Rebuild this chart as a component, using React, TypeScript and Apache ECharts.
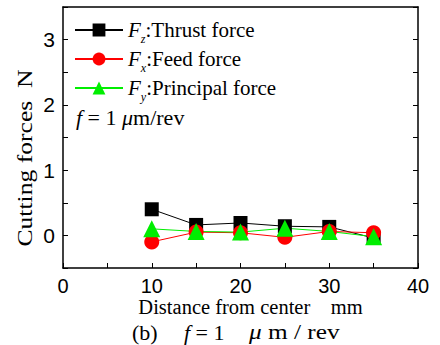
import React, { useEffect, useRef } from "react";
import * as echarts from "echarts";

const distances = [10, 15, 20, 25, 30, 35];
const thrustFz = [0.4, 0.16, 0.19, 0.14, 0.13, -0.04];
const feedFx = [-0.1, 0.05, 0.04, -0.03, 0.06, 0.04];
const principalFy = [0.1, 0.06, 0.05, 0.11, 0.06, -0.02];
const xTickLabels = ["0", "10", "20", "30", "40"];
const yTickLabels = ["0", "1", "2", "3"];

const serif = "'Liberation Serif', 'Times New Roman', serif";
const sans = "'Liberation Sans', Arial, sans-serif";

export default function App() {
  const ref = useRef<HTMLDivElement>(null);
  useEffect(() => {
    document.body.style.margin = "0";
    const chart = echarts.init(ref.current!, null, { renderer: "svg" });
    const pair = (ys: number[]) => distances.map((x, i) => [x, ys[i]]);
    const rich = {
      i: { fontFamily: serif, fontStyle: "italic", fontSize: 21, color: "#000" },
      s: { fontFamily: serif, fontStyle: "italic", fontSize: 12, color: "#000", padding: [18, 0, 0, 0] },
      n: { fontFamily: serif, fontSize: 21, color: "#000" },
    };
    const subs: Record<string, [string, string]> = {
      Fz: ["z", ":Thrust force"],
      Fx: ["x", ":Feed force"],
      Fy: ["y", ":Principal force"],
    };
    const capRich = {
      i: { fontFamily: serif, fontStyle: "italic", fontSize: 22, fill: "#000" },
      n: { fontFamily: serif, fontSize: 22, fill: "#000" },
    };
    const axisLine = { show: true, onZero: false, lineStyle: { color: "#000", width: 1.5 } };
    const cap = (text: string, x: number, sx = 1) => ({
      type: "text",
      x,
      y: 321,
      scaleX: sx,
      style: { text, rich: capRich, align: "left", verticalAlign: "top" },
    });
    chart.setOption({
      animation: false,
      grid: { left: 63, right: 22, top: 7, bottom: 77 },
      legend: {
        orient: "vertical",
        left: 74,
        top: 19,
        padding: 0,
        itemWidth: 48,
        itemHeight: 16,
        itemGap: 3,
        data: ["Fz", "Fx", "Fy"],
        formatter: (name: string) => `{i|F}{s|${subs[name][0]}}{n|${subs[name][1]}}`,
        textStyle: { rich, lineHeight: 22 },
      },
      xAxis: [
        {
          type: "value",
          min: 0,
          max: 40,
          interval: 5,
          position: "bottom",
          axisLine,
          axisTick: { inside: true, length: 5, lineStyle: { color: "#000" } },
          splitLine: { show: false },
          axisLabel: {
            fontFamily: sans,
            fontSize: 20,
            lineHeight: 19,
            color: "#000",
            margin: 8,
            formatter: (v: number) => (xTickLabels.includes(String(v)) ? String(v) : ""),
          },
          name: "Distance from center\u00a0\u00a0\u00a0 mm",
          nameLocation: "middle",
          nameMoveOverlap: false,
          nameGap: 29,
          nameTextStyle: {
            fontFamily: serif,
            fontSize: 20.5,
            lineHeight: 19,
            color: "#000",
            padding: [0, 0, 0, 20],
          },
        },
        {
          type: "value",
          min: 0,
          max: 40,
          position: "top",
          axisLine,
          axisTick: { show: false },
          axisLabel: { show: false },
          splitLine: { show: false },
        },
      ],
      yAxis: [
        {
          type: "value",
          min: -0.5,
          max: 3.5,
          interval: 0.5,
          position: "left",
          axisLine,
          axisTick: { inside: true, length: 5, lineStyle: { color: "#000" } },
          splitLine: { show: false },
          axisLabel: {
            fontFamily: sans,
            fontSize: 21,
            color: "#000",
            margin: 8,
            formatter: (v: number) => (yTickLabels.includes(String(v)) ? String(v) : ""),
          },
        },
        {
          type: "value",
          min: -0.5,
          max: 3.5,
          interval: 0.5,
          position: "right",
          axisLine,
          axisTick: { inside: true, length: 5, lineStyle: { color: "#000" } },
          axisLabel: { show: false },
          splitLine: { show: false },
        },
      ],
      graphic: [
        {
          type: "text",
          x: 25,
          y: 158,
          rotation: Math.PI / 2,
          scaleX: 1.28,
          style: {
            text: "Cutting forces\u00a0\u00a0N",
            fill: "#000",
            fontFamily: serif,
            fontSize: 20,
            align: "center",
            verticalAlign: "middle",
          },
        },
        {
          type: "text",
          left: 76,
          top: 106,
          style: {
            text: "{i|f}{n| = 1 }{i|μ}{n|m/rev}",
            rich: capRich,
          },
        },
        cap("{n|(b)}", 132),
        cap("{i|f}{n|\u00a0=\u00a01}", 184),
        cap("{i|μ}{n|\u00a0m\u00a0/\u00a0rev}", 249, 1.15),
      ],
      series: [
        {
          name: "Fz",
          type: "line",
          data: pair(thrustFz),
          symbol: "rect",
          symbolSize: 14,
          itemStyle: { color: "#000" },
          lineStyle: { color: "#000", width: 1 },
        },
        {
          name: "Fx",
          type: "line",
          data: pair(feedFx),
          symbol: "circle",
          symbolSize: 15,
          itemStyle: { color: "#ff0000" },
          lineStyle: { color: "#ff0000", width: 1 },
        },
        {
          name: "Fy",
          type: "line",
          data: pair(principalFy),
          symbol: "triangle",
          symbolSize: 17,
          itemStyle: { color: "#00ee00" },
          lineStyle: { color: "#00ee00", width: 1 },
        },
      ],
    });
    return () => chart.dispose();
  }, []);
  return <div ref={ref} style={{ width: 440, height: 345 }} />;
}
